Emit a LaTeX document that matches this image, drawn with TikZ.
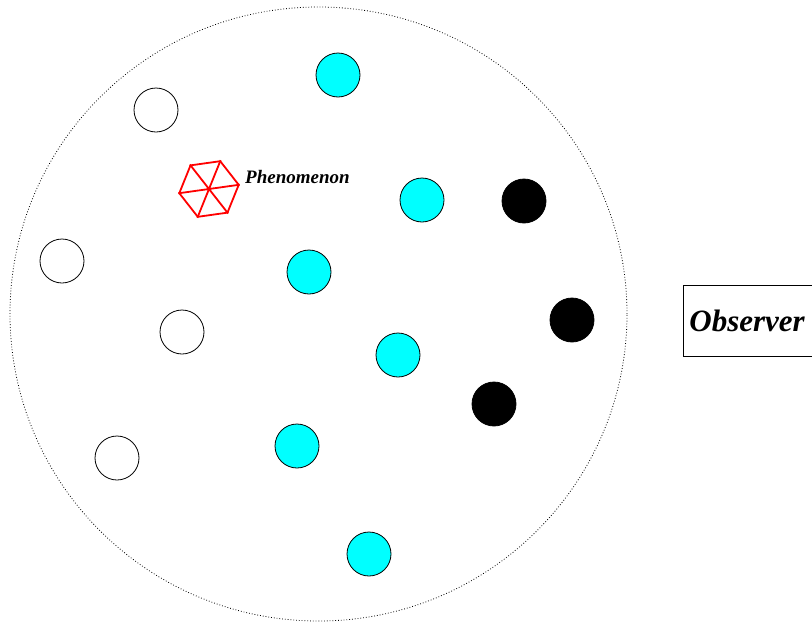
\documentclass[tikz,border=0pt]{standalone}
\usepackage{fontspec}
\setmainfont{Liberation Serif}
\usetikzlibrary{shapes.geometric,positioning}

\definecolor{beadcyan}{RGB}{0,255,255}

\tikzset{
    bead/.style={circle, draw, line width=0.8pt, inner sep=0pt, minimum size=44pt},
    emptybead/.style={bead, fill=white},
    cyanbead/.style={bead, fill=beadcyan},
    blackbead/.style={bead, fill=black},
}

\begin{document}
\begin{tikzpicture}[x=1pt, y=-1pt]
    \clip (0,0) rectangle (812,627);
    \useasboundingbox (0,0) rectangle (812,627);

    % the population
    \node (world) [ellipse, draw, dotted, line width=0.8pt, inner sep=0pt, minimum width=617pt, minimum height=614pt] at (318.5, 314) {};

    \node (w1) [emptybead] at (156, 110) {};
    \node (w2) [emptybead] at (62, 261) {};
    \node (w3) [emptybead] at (182, 332) {};
    \node (w4) [emptybead] at (117, 458) {};

    \node (c1) [cyanbead] at (338, 75) {};
    \node (c2) [cyanbead] at (422, 200) {};
    \node (c3) [cyanbead] at (309, 272) {};
    \node (c4) [cyanbead] at (398, 355) {};
    \node (c5) [cyanbead] at (297, 446) {};
    \node (c6) [cyanbead] at (369, 554) {};

    \node (b1) [blackbead] at (524, 201) {};
    \node (b2) [blackbead] at (572, 320) {};
    \node (b3) [blackbead] at (494, 404) {};

    % the phenomenon
    \node (hex) [regular polygon, regular polygon sides=6, draw=red, line width=1.8pt, inner sep=0pt, minimum size=60pt, rotate=8] at (209, 189) {};
    \draw[red, line width=1.8pt] (hex.corner 1) -- (hex.corner 4)
                      (hex.corner 2) -- (hex.corner 5)
                      (hex.corner 3) -- (hex.corner 6);
    \node (phen) [anchor=west, inner sep=0pt, font=\fontsize{19}{22}\selectfont\bfseries\itshape] at (245, 177) {Phenomenon};

    % the observer
    \node (obs) [draw, line width=0.8pt, anchor=west, inner sep=0pt, minimum width=140pt, minimum height=71pt, text width=134pt, font=\fontsize{31}{34}\selectfont\bfseries\itshape] at (683, 320.5) {\hspace*{3pt}Observer};
\end{tikzpicture}
\end{document}
